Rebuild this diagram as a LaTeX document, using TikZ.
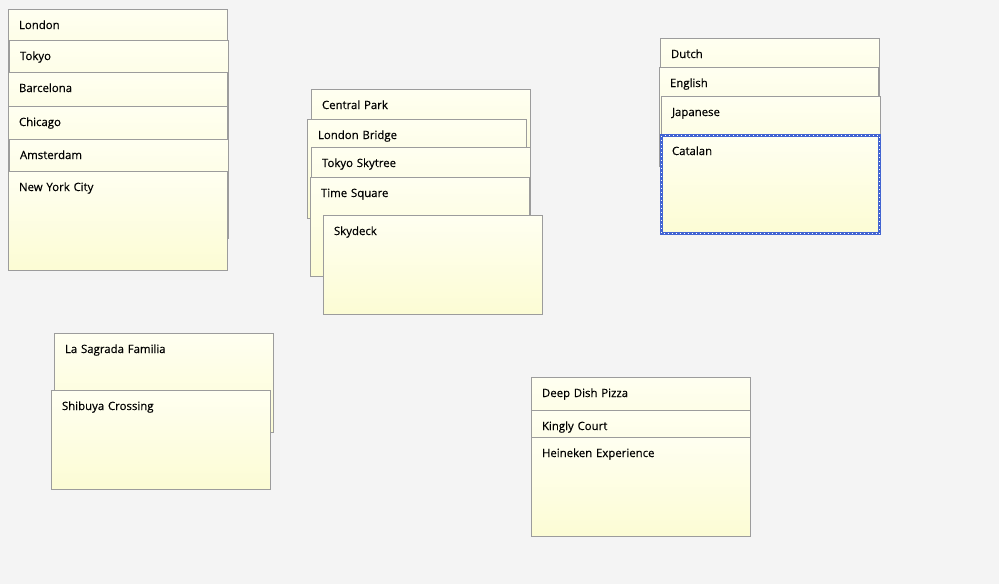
\documentclass[tikz,border=0pt]{standalone}
\usepackage{fontspec}
\setmainfont[FakeBold=0.35]{Open Sans}
\definecolor{canvas}{RGB}{244,244,244}
\definecolor{cardtop}{RGB}{255,255,241}
\definecolor{cardbot}{RGB}{252,252,212}
\definecolor{cardedge}{RGB}{156,156,156}
\definecolor{selblue}{RGB}{66,100,210}
\tikzset{
  card/.style={draw=cardedge, line width=1pt, top color=cardtop, bottom color=cardbot,
    anchor=north west, inner xsep=11pt, inner ysep=0pt, text width=197pt, align=left,
    text height=20pt, text depth=79pt,
    font=\fontsize{11.4}{13}\selectfont, text=black},
  selband/.style={draw=selblue, line width=3pt},
  seldots/.style={draw=white, line width=1pt, dash pattern=on 1pt off 3pt}
}
\begin{document}
\begin{tikzpicture}[x=1pt, y=-1pt]
  % canvas
  \fill[canvas] (0,0) rectangle (999,584);
  \useasboundingbox (0,0) rectangle (999,584);

  % cities
  \node[card] (london)    at (7.5,8.5)   {London};
  \node[card] (tokyo)     at (8.5,39.5)  {Tokyo};
  \node[card] (barcelona) at (7.5,71.5)  {Barcelona};
  \node[card] (chicago)   at (7.5,105.5) {Chicago};
  \node[card] (amsterdam) at (8.5,138.5) {Amsterdam};
  \node[card] (nyc)       at (7.5,170.5) {New York City};

  % sights
  \node[card] (centralpark)  at (310.5,88.5)  {Central Park};
  \node[card] (londonbridge) at (306.5,118.5) {London Bridge};
  \node[card] (skytree)      at (310.5,146.5) {Tokyo Skytree};
  \node[card] (timesquare)   at (309.5,176.5) {Time Square};
  \node[card] (skydeck)      at (322.5,214.5) {Skydeck};

  % languages
  \node[card] (dutch)    at (659.5,37.5) {Dutch};
  \node[card] (english)  at (658.5,66.5) {English};
  \node[card] (japanese) at (660.5,95.5) {Japanese};
  \node[card] (catalan)  at (660.5,134.5) {Catalan};
  % selection frame on the Catalan card
  \draw[selband] ([shift={(1,1)}]catalan.north west) rectangle ([shift={(-1,-1)}]catalan.south east);
  \draw[seldots] ([shift={(1,1)}]catalan.north west) rectangle ([shift={(-1,-1)}]catalan.south east);

  % landmarks
  \node[card] (sagrada) at (53.5,332.5) {La Sagrada Familia};
  \node[card] (shibuya) at (50.5,389.5) {Shibuya Crossing};

  % experiences
  \node[card] (pizza)    at (530.5,376.5) {Deep Dish Pizza};
  \node[card] (kingly)   at (530.5,409.5) {Kingly Court};
  \node[card] (heineken) at (530.5,436.5) {Heineken Experience};
\end{tikzpicture}
\end{document}
